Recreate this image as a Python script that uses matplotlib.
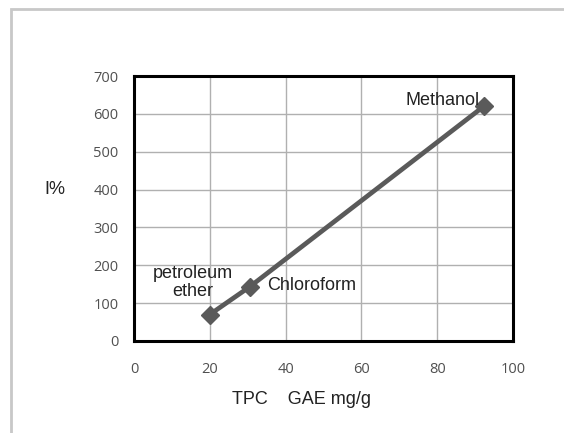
import matplotlib.pyplot as plt
from matplotlib.patches import Rectangle

# data
solvents = ['petroleum\nether', 'Chloroform', 'Methanol']
tpc = [20, 30.5, 92.3]
inhibition = [70, 143, 620]

xticks = [0, 20, 40, 60, 80, 100]
yticks = [0, 100, 200, 300, 400, 500, 600, 700]

fig = plt.figure(figsize=(5.64, 4.33), dpi=100)

# grey frame around the chart area
fig.patches.append(Rectangle((11 / 564, -0.1), 1.2, 0.1 + 424 / 433,
                             transform=fig.transFigure, fill=False,
                             edgecolor='#c8c8c8', linewidth=2))

ax = fig.add_axes([134 / 564, 92 / 433, 379 / 564, 265 / 433])
ax.plot(tpc, inhibition, color='#5a5a5a', linewidth=3.4,
        marker='D', markersize=9, markerfacecolor='#5a5a5a', zorder=3)

ax.set_xlim(0, 100)
ax.set_ylim(0, 700)
ax.set_xticks(xticks)
ax.set_yticks(yticks)
ax.grid(True, color='#b0b0b0', linewidth=1)
ax.set_axisbelow(True)
for s in ax.spines.values():
    s.set_linewidth(2.2)
    s.set_color('black')
ax.tick_params(length=0, labelsize=10.5, colors='#505050')
ax.tick_params(axis='y', pad=11)
ax.tick_params(axis='x', pad=15)
for lab in ax.get_xticklabels() + ax.get_yticklabels():
    lab.set_family('Open Sans')

lbl = dict(fontsize=13, family='Liberation Sans', color='#222222')
ax.annotate(solvents[0], (tpc[0], inhibition[0]), xytext=(-12, 23),
            textcoords='offset points', ha='center', va='center',
            linespacing=1.1, **lbl)
ax.annotate(solvents[1], (tpc[1], inhibition[1]), xytext=(45, 1),
            textcoords='offset points', ha='center', va='center', **lbl)
ax.annotate(solvents[2], (tpc[2], inhibition[2]), xytext=(-30, 4),
            textcoords='offset points', ha='center', va='center', **lbl)

fig.text(301 / 564, 1 - 400 / 433, 'TPC    GAE mg/g', ha='center', va='center', **lbl)
fig.text(55 / 564, 1 - 190 / 433, 'I%', ha='center', va='center', **lbl)

fig.savefig('out.png', dpi=100)
